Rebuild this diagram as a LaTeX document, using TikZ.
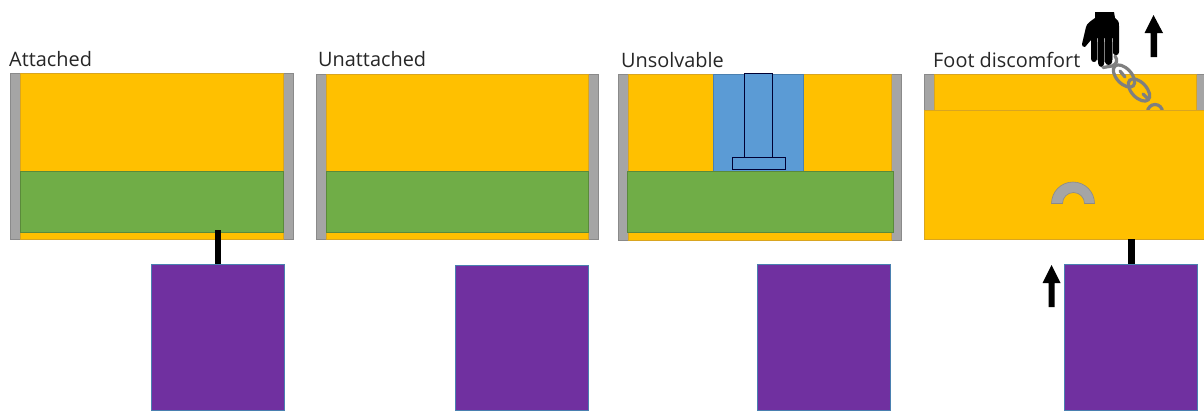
\documentclass[tikz,border=0pt]{standalone}
\usepackage{fontspec}
\setmainfont{Open Sans}
\definecolor{yel}{HTML}{FFC000}
\definecolor{yeld}{HTML}{D9A520}
\definecolor{grn}{HTML}{70AD47}
\definecolor{grnd}{HTML}{5A8A3A}
\definecolor{gry}{HTML}{A5A5A5}
\definecolor{gryd}{HTML}{8A8A8A}
\definecolor{pur}{HTML}{7030A0}
\definecolor{blu}{HTML}{5B9BD5}
\definecolor{blud}{HTML}{4A80B0}
\definecolor{chn}{HTML}{7F7F7F}
\tikzset{
 x=1pt,y=-1pt,
 wall/.style={fill=gry,draw=gryd,line width=.7pt},
 foam/.style={fill=yel,draw=yeld,line width=.7pt},
 sole/.style={fill=grn,draw=grnd,line width=.8pt},
 block/.style={fill=pur,draw=blud,line width=.7pt},
 insert/.style={fill=blu,draw=blud,line width=.7pt},
 bolt/.style={fill=blu,draw=black!80!blue,line width=.9pt},
 rod/.style={fill=black},
 uparrow/.style={fill=black},
 link/.style={draw=chn,line width=3.2pt,line cap=round},
 title/.style={anchor=base west,inner sep=0pt,font=\fontsize{19.9}{22}\selectfont,text=black!85}
}
\begin{document}
\begin{tikzpicture}
\useasboundingbox (0,0) rectangle (1204,410);
% panel 1
\draw[wall] (10,73) rectangle (20,239);
\draw[wall] (283,73) rectangle (293,239);
\draw[foam] (20,73) rectangle (283,239);
\draw[sole] (20,171) rectangle (283,232);
\draw[rod] (215,230) rectangle (220.5,265);
\draw[block] (151.6,264.5) rectangle (284.6,410);
\node[title] (t1) at (9,66) {Attached};
% panel 2
\draw[wall] (316,74) rectangle (326,239);
\draw[wall] (588,74) rectangle (598,239);
\draw[foam] (326,74) rectangle (588,239);
\draw[sole] (326,171) rectangle (588,232);
\draw[block] (455.6,265) rectangle (588.6,410);
\node[title] (t2) at (318,66) {Unattached};
% panel 3
\draw[wall] (618,74) rectangle (628,240);
\draw[wall] (891,74) rectangle (901,240);
\draw[foam] (628,74) rectangle (891,240);
\draw[insert] (713,74) rectangle (803,171);
\draw[sole] (627,171) rectangle (893,232);
\draw[bolt] (744,73) rectangle (772,157);
\draw[bolt] (732.5,157) rectangle (785,169.5);
\draw[block] (757.8,264.5) rectangle (890.8,410);
\node[title] (t3) at (621,67) {Unsolvable};
% panel 4
\draw[wall] (924,74) rectangle (934,110);
\draw[wall] (1196,74) rectangle (1206,110);
\draw[foam] (934,74) rectangle (1196,110);
% hand
\fill[black] (1095,12) -- (1114,12) -- (1115,18) .. controls (1118,19) and (1119,22) .. (1119,26)
 -- (1119,52) .. controls (1119,56) and (1114,56) .. (1113,53) -- (1112.8,38) -- (1112.2,38) -- (1112,62)
 .. controls (1112,66) and (1105.5,66) .. (1105,62) -- (1104.8,38) -- (1104.2,38) -- (1104,64)
 .. controls (1103.5,68) and (1098.5,68) .. (1098,63) -- (1097.8,38) -- (1097.2,38) -- (1097,59)
 .. controls (1096.5,63) and (1091.5,63) .. (1091,59) -- (1091,40) -- (1085,47)
 .. controls (1083,47) and (1081.5,46) .. (1082,44) -- (1086,27) .. controls (1087,23) and (1091,21) .. (1095,18) -- cycle;
\draw[chn,line width=1.3pt] (1097.5,42) -- (1097.5,60) (1104.5,42) -- (1104.5,62) (1112.5,42) -- (1112.5,60);
% chain
\begin{scope}
\clip (1090,40) rectangle (1204,109.5);
\draw[link] (1115,56) .. controls (1118,60) and (1117,64) .. (1112,66) -- (1103,67.5);
\draw[link,rotate around={-47:(1124,76)}] (1124,76) ellipse (13.5 and 7.5);
\draw[link,rotate around={-47:(1139,90)}] (1139,90) ellipse (13.5 and 7.5);
\draw[link] (1120,71) -- (1125,77);
\draw[link] (1143,94) -- (1148,99);
\draw[link] (1155,112) ellipse (7.5 and 7.5);
\end{scope}
\draw[foam] (924,110) rectangle (1204,239);
\draw[fill=gry,draw=gryd,line width=.6pt] (1051.5,203.5) arc[start angle=180,end angle=360,radius=21.5] -- (1084.5,203.5) arc[start angle=360,end angle=180,radius=11] -- cycle;
\draw[rod] (1128.5,239) rectangle (1134.5,265);
\draw[block] (1064.8,264.5) rectangle (1197.8,410);
\fill[uparrow] (1051.5,265) -- (1060.5,283) -- (1054.5,283) -- (1054.5,307) -- (1048.5,307) -- (1048.5,283) -- (1042.5,283) -- cycle;
\fill[uparrow] (1153.5,15) -- (1163,33) -- (1157,33) -- (1157,57) -- (1150.5,57) -- (1150.5,33) -- (1144.5,33) -- cycle;
\node[title] (t4) at (933,67) {Foot discomfort};
\end{tikzpicture}
\end{document}
